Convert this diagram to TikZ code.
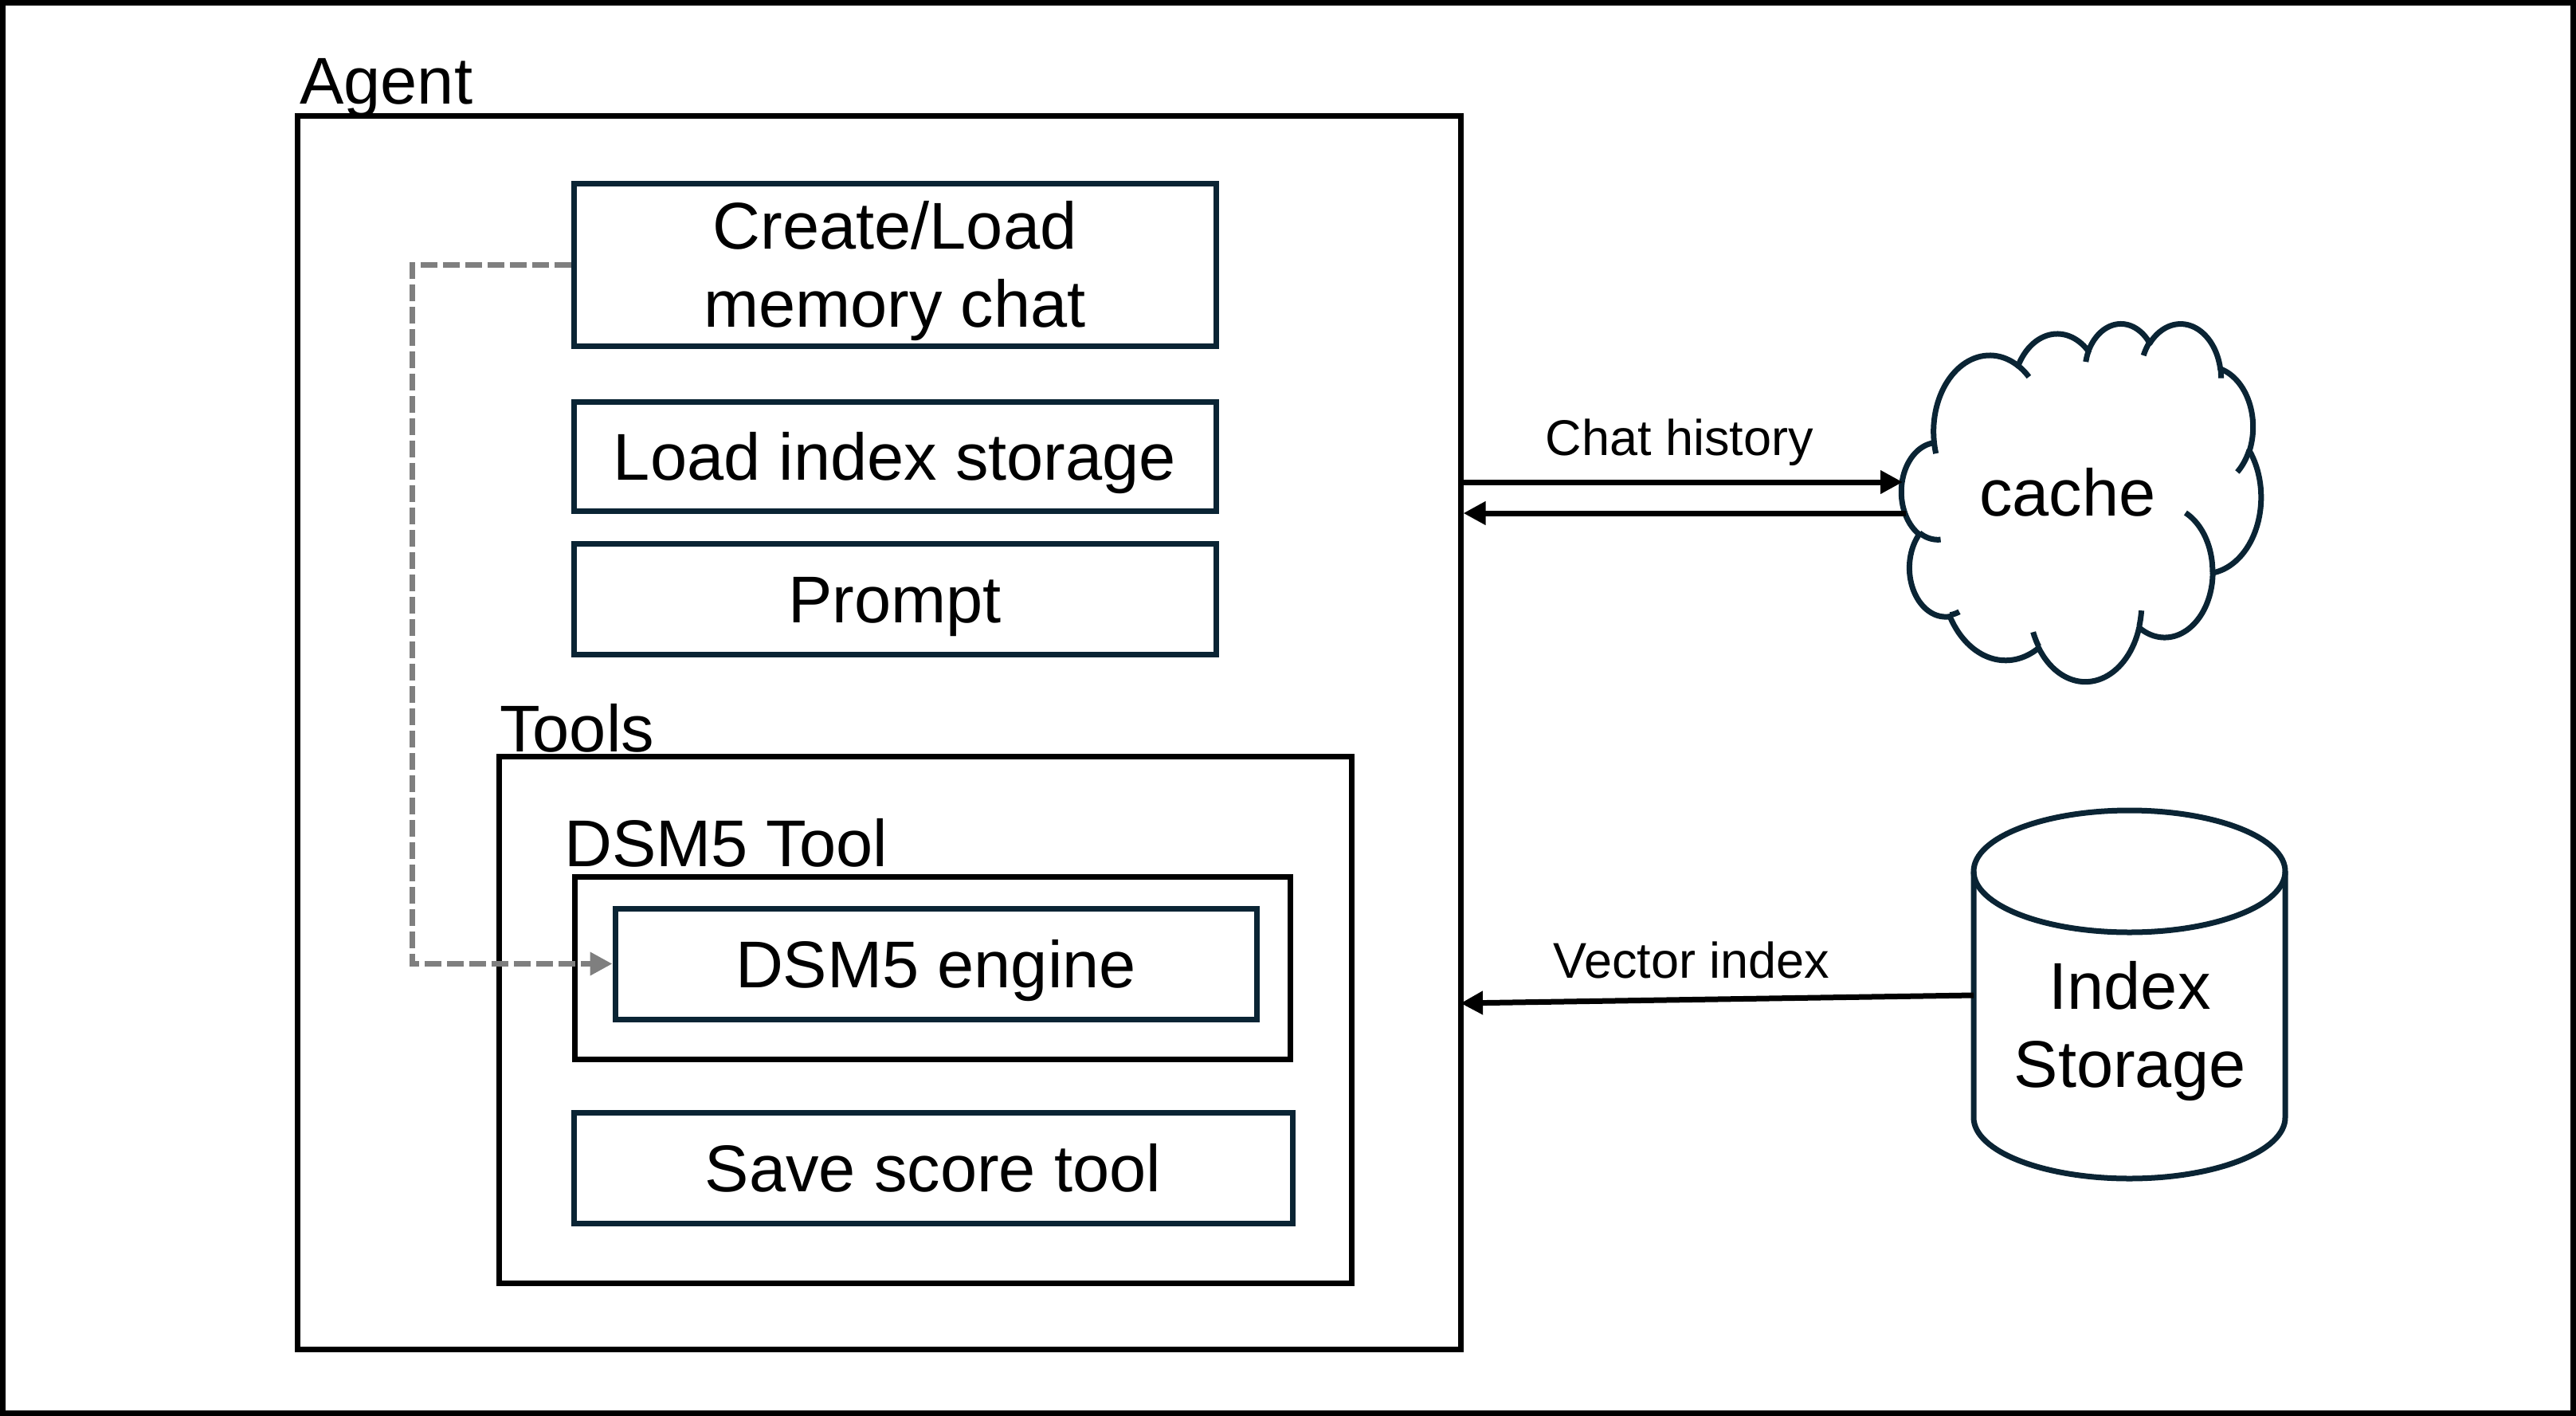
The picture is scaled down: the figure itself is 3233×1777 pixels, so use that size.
\documentclass[tikz,border=0pt]{standalone}
\usepackage{fontspec}
\setmainfont{Liberation Sans}
\usetikzlibrary{arrows.meta}
\definecolor{navy}{RGB}{10,36,52}
\definecolor{dgray}{RGB}{127,127,127}
\newcommand\bigf{\fontsize{83}{98}\selectfont}
\newcommand\labf{\fontsize{63}{75}\selectfont}
% one DrawingML-style arcTo: wR hR stAng swAng (degrees), from current point \clpx,\clpy
\newcommand\ooarc[4]{%
  \pgfmathsetmacro\clta{atan2((#1)*sin(#3),(#2)*cos(#3))}%
  \pgfmathsetmacro\cltbo{atan2((#1)*sin((#3)+(#4)),(#2)*cos((#3)+(#4)))}%
  \pgfmathsetmacro\cltb{\clta+mod(\cltbo-\clta+720,360)}%
  \pgfmathsetmacro\clcx{\clpx-(#1)*cos(\clta)}%
  \pgfmathsetmacro\clcy{\clpy-(#2)*sin(\clta)}%
  \draw[cloudline] plot[domain=\clta:\cltb,samples=40] ({\clcx+(#1)*cos(\x)},{\clcy+(#2)*sin(\x)});%
  \pgfmathsetmacro\clnx{\clcx+(#1)*cos(\cltb)}%
  \pgfmathsetmacro\clny{\clcy+(#2)*sin(\cltb)}%
  \xdef\clpx{\clnx}\xdef\clpy{\clny}%
}
\begin{document}
\begin{tikzpicture}[x=1pt,y=-1pt,
  blkbox/.style={draw=black,line width=7pt,rectangle,inner sep=0pt},
  navybox/.style={draw=navy,line width=7pt,rectangle,inner sep=0pt,font=\bigf,text height=60pt,text depth=0pt},
  bigtxt/.style={font=\bigf,inner sep=0pt},
  labtxt/.style={font=\labf,inner sep=0pt},
  arr/.style={draw=black,line width=7pt,-{Triangle[length=28pt,width=28pt]}},
  darr/.style={draw=dgray,line width=7pt,dash pattern=on 21pt off 7pt,-{Triangle[length=28pt,width=28pt]}},
  cloudline/.style={draw=navy,line width=7pt,line join=round,line cap=round},
  tickline/.style={draw=navy,line width=7pt,line cap=butt},
  cylline/.style={draw=navy,line width=7pt,line join=round}]
\useasboundingbox (0,0) rectangle (3233,1777);
\draw[line width=6.7pt] (3.35,3.35) rectangle (3229.65,1773.65);

% Agent
\node[bigtxt,anchor=base west] (agentlbl) at (376,130) {Agent};
\node[blkbox,minimum width=1460pt,minimum height=1548pt] (agent) at (1103,919) {};

\node[navybox,minimum width=806pt,minimum height=204pt] (create) at (1123,332) {};
\node[bigtxt,align=center] (createtxt) at (1123,340) {Create/Load\\memory chat};
\node[navybox,minimum width=806pt,minimum height=137pt] (loadidx) at (1123,572.5) {Load index storage};
\node[navybox,minimum width=806pt,minimum height=139pt] (prompt) at (1123,751.5) {Prompt};

% Tools
\node[bigtxt,anchor=base west] (toolslbl) at (627,943) {Tools};
\node[blkbox,minimum width=1070pt,minimum height=661pt] (tools) at (1161,1279.5) {};
\node[bigtxt,anchor=base west] (dsmlbl) at (708,1087) {DSM5 Tool};
\node[blkbox,minimum width=898pt,minimum height=229pt] (dsmtool) at (1170,1214.5) {};
\node[navybox,minimum width=805pt,minimum height=139pt] (engine) at (1174.5,1209.5) {DSM5 engine};
\node[navybox,minimum width=902pt,minimum height=139pt] (save) at (1171,1465.5) {Save score tool};

% dashed connector
\draw[darr] (create.west) -- ++(-199,0) |- (engine.west);

% cloud (cache)
\begin{scope}[shift={(2386.6,405)},xscale=1.04398,yscale=1.0394]
\xdef\clpx{39.00}\xdef\clpy{143.70}
\foreach \ca/\cb/\cs/\cw in {
  67.53/91.90/-190.48748/123.78053,
  53.33/72.67/-144.10238/89.94523,
  43.65/59.45/-145.80792/99.72302,
  48.57/65.95/-130.98607/117.24173,
  53.33/72.73/-78.70888/109.02692,
  67.75/92.20/-46.26725/130.269,
  57.85/78.67/0.62502/114.03333,
  67.52/92.15/22.4516/115.17255,
  77.20/105.43/66.24263/75.71102,
  43.60/59.18/-274.94208/146.73557,
  43.45/59.45/-246.8285/152.51885}{\ooarc{\ca}{\cb}{\cs}{\cw}}
\tikzset{cloudline/.style={tickline}}
\foreach \tx/\ty/\ca/\cb/\cs/\cw in {
  46.93/261.77/43.45/59.45/86.742/26.4295,
  69.28/348.99/43.60/59.18/73.61047/11.44747,
  164.78/390.90/67.52/92.15/137.62415/14.0811,
  288.27/347.51/67.52/92.15/6.45327/15.99835,
  341.29/229.54/57.85/78.67/-70.29235/70.91737,
  417.98/153.54/53.33/72.73/30.31803/27.7515,
  383.24/54.26/48.57/65.95/-13.74433/14.8589,
  290.78/39.52/48.57/65.95/-149.18145/18.19537,
  221.41/47.20/43.65/59.45/-163.49427/17.68635,
  140.00/51.92/67.53/91.90/-66.70695/12.31935,
  41.27/157.89/67.53/91.90/157.65435/11.85817}{\xdef\clpx{\tx}\xdef\clpy{\ty}\ooarc{\ca}{\cb}{\cs}{\cw}}
\end{scope}
\node[bigtxt,anchor=base] (cache) at (2595,647) {cache};

% cylinder (index storage)
\draw[cylline] (2477,1093.5) -- (2477,1402.5) arc[start angle=180,end angle=360,x radius=195.5pt,y radius=76.5pt] -- (2868,1093.5);
\draw[cylline] (2672.5,1093.5) ellipse[x radius=195.5pt,y radius=76.5pt];
\node[bigtxt,align=center] (store) at (2673,1294) {Index\\Storage};

% connectors
\coordinate (cachein) at (2388,605);
\coordinate (cacheout) at (2392,644);
\coordinate (storein) at (2477,1249);
\coordinate (vecend) at (1833,1259);
\draw[arr] (agent.east |- cachein) -- (cachein);
\draw[arr] (cacheout) -- (agent.east |- cacheout);
\draw[arr] (storein) -- (vecend);
\node[labtxt,anchor=base] (chatlbl) at (2108,571) {Chat history};
\node[labtxt,anchor=base] (veclbl) at (2123,1227) {Vector index};
\end{tikzpicture}
\end{document}
